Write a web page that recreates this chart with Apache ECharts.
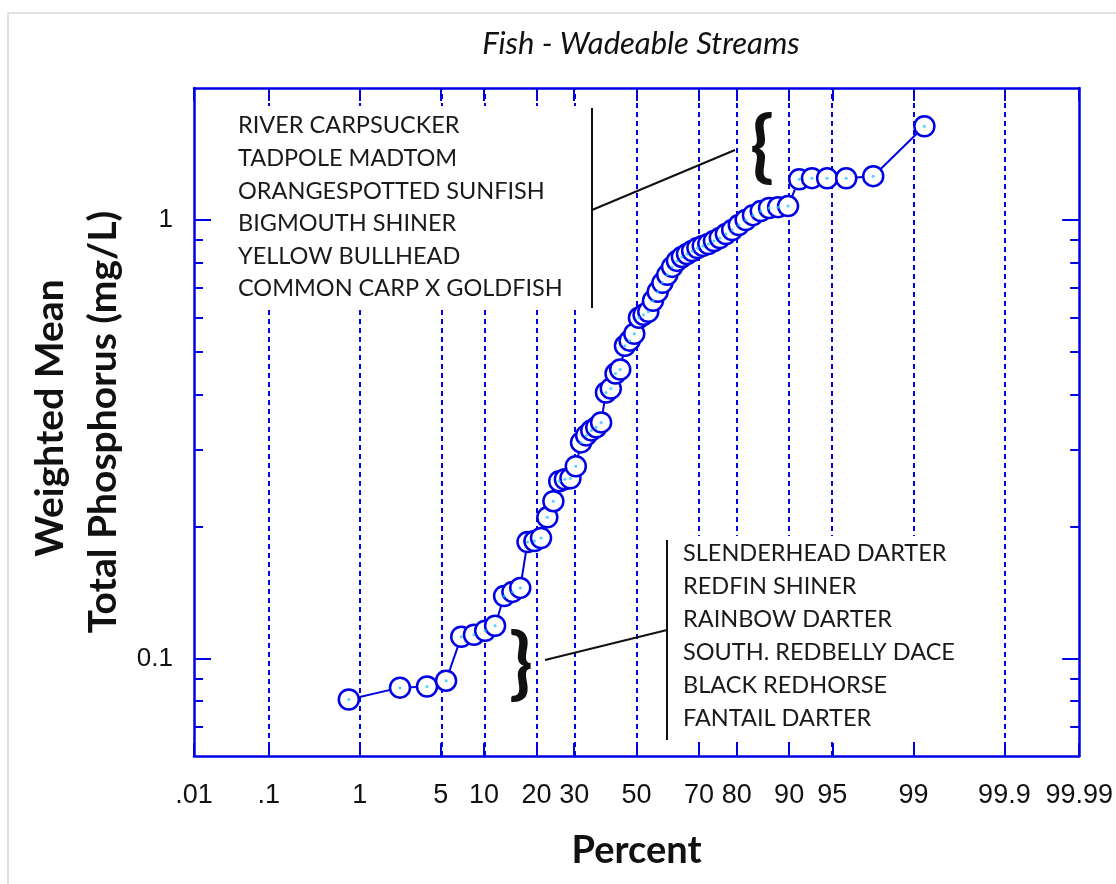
<!DOCTYPE html>
<html><head><meta charset="utf-8">
<script src="https://cdn.jsdelivr.net/npm/echarts@6/dist/echarts.min.js"></script>
<style>html,body{margin:0;padding:0;background:#fff}#c{width:1116px;height:884px}</style>
</head><body><div id="c"></div>
<script>
// ---- data ----
const percents = [0.78, 2.34, 3.91, 5.47, 7.03, 8.59, 10.16, 11.72, 13.28, 14.84, 16.41, 17.97, 19.53, 21.09, 22.66, 24.22, 25.78, 27.34, 28.91, 30.47, 32.03, 33.59, 35.16, 36.72, 38.28, 39.84, 41.41, 42.97, 44.53, 46.09, 47.66, 49.22, 50.78, 52.34, 53.91, 55.47, 57.03, 58.59, 60.16, 61.72, 63.28, 64.84, 66.41, 67.97, 69.53, 71.09, 72.66, 74.22, 75.78, 77.34, 78.91, 80.47, 82.03, 83.59, 85.16, 86.72, 88.28, 89.84, 91.41, 92.97, 94.53, 96.09, 97.66, 99.22];
const phosphorus = [0.0807, 0.0859, 0.0864, 0.0891, 0.1122, 0.1134, 0.1158, 0.1189, 0.139, 0.142, 0.145, 0.1845, 0.1854, 0.1884, 0.210, 0.2286, 0.2538, 0.2565, 0.2578, 0.2746, 0.3112, 0.3229, 0.3315, 0.3368, 0.3457, 0.4044, 0.413, 0.4467, 0.4562, 0.517, 0.531, 0.5507, 0.5988, 0.6083, 0.618, 0.6545, 0.6862, 0.7192, 0.7499, 0.782, 0.8069, 0.824, 0.837, 0.850, 0.8637, 0.873, 0.882, 0.896, 0.910, 0.929, 0.949, 0.974, 1.0, 1.026, 1.048, 1.065, 1.070, 1.076, 1.239, 1.246, 1.245, 1.245, 1.259, 1.636];
const tickPercents = [0.01, 0.1, 1, 5, 10, 20, 30, 50, 70, 80, 90, 95, 99, 99.9, 99.99];
const tickLabels = ['.01', '.1', '1', '5', '10', '20', '30', '50', '70', '80', '90', '95', '99', '99.9', '99.99'];
const gridPercents = [0.1, 1, 5, 10, 20, 30, 50, 70, 80, 90, 95, 99, 99.9];
const yMajor = [0.1, 1];
const yMajorLabels = ['0.1', '1'];
const yMinor = [0.07, 0.08, 0.09, 0.2, 0.3, 0.4, 0.5, 0.6, 0.7, 0.8, 0.9];
const yMin = 0.06, yMax = 2;
const title = 'Fish - Wadeable Streams';
const xName = 'Percent';
const yName1 = 'Weighted Mean';
const yName2 = 'Total Phosphorus (mg/L)';
const upperSpecies = ['RIVER CARPSUCKER', 'TADPOLE MADTOM', 'ORANGESPOTTED SUNFISH', 'BIGMOUTH SHINER', 'YELLOW BULLHEAD', 'COMMON CARP X GOLDFISH'];
const lowerSpecies = ['SLENDERHEAD DARTER', 'REDFIN SHINER', 'RAINBOW DARTER', 'SOUTH. REDBELLY DACE', 'BLACK REDHORSE', 'FANTAIL DARTER'];

// ---- probability (probit) transform for the x scale ----
function probit(p) {
  const a = [-3.969683028665376e+01, 2.209460984245205e+02, -2.759285104469687e+02, 1.383577518672690e+02, -3.066479806614716e+01, 2.506628277459239e+00];
  const b = [-5.447609879822406e+01, 1.615858368580409e+02, -1.556989798598866e+02, 6.680131188771972e+01, -1.328068155288572e+01];
  const c = [-7.784894002430293e-03, -3.223964580411365e-01, -2.400758277161838e+00, -2.549732539343734e+00, 4.374664141464968e+00, 2.938163982698783e+00];
  const d = [7.784695709041462e-03, 3.224671290700398e-01, 2.445134137142996e+00, 3.754408661907416e+00];
  const plow = 0.02425;
  let q, r;
  if (p < plow) {
    q = Math.sqrt(-2 * Math.log(p));
    return (((((c[0]*q+c[1])*q+c[2])*q+c[3])*q+c[4])*q+c[5]) / ((((d[0]*q+d[1])*q+d[2])*q+d[3])*q+1);
  } else if (p <= 1 - plow) {
    q = p - 0.5; r = q*q;
    return (((((a[0]*r+a[1])*r+a[2])*r+a[3])*r+a[4])*r+a[5])*q / (((((b[0]*r+b[1])*r+b[2])*r+b[3])*r+b[4])*r+1);
  } else {
    q = Math.sqrt(-2 * Math.log(1 - p));
    return -(((((c[0]*q+c[1])*q+c[2])*q+c[3])*q+c[4])*q+c[5]) / ((((d[0]*q+d[1])*q+d[2])*q+d[3])*q+1);
  }
}
const zOf = pct => probit(pct / 100);
const xMin = zOf(tickPercents[0]);
const xMax = zOf(tickPercents[tickPercents.length - 1]);
const tickZ = tickPercents.map(zOf);
function xLabel(v) {
  let best = 0, bd = Infinity;
  tickZ.forEach((z, i) => { const dd = Math.abs(z - v); if (dd < bd) { bd = dd; best = i; } });
  return tickLabels[best];
}

const BLUE = '#0000E6';
const points = percents.map((p, i) => [zOf(p), phosphorus[i]]);

const chart = echarts.init(document.getElementById('c'), null, {renderer: 'canvas'});
const baseX = {
  type: 'value', min: xMin, max: xMax,
  axisLine: {show: true, onZero: false, lineStyle: {color: BLUE, width: 2.5}},
  axisTick: {show: true, inside: true, length: 13, customValues: tickZ, lineStyle: {color: BLUE, width: 2}},
  splitLine: {show: false}
};
const baseY = {
  type: 'log', logBase: 10, min: yMin, max: yMax,
  axisLine: {show: true, onZero: false, lineStyle: {color: BLUE, width: 2.5}},
  splitLine: {show: false}, minorTick: {show: false}, minorSplitLine: {show: false}
};
const option = {
  backgroundColor: '#fff',
  animation: false,
  grid: {left: 194, right: 34, top: 88, bottom: 128, containLabel: false},
  xAxis: [
    Object.assign({}, baseX, {
      position: 'bottom',
      axisLabel: {show: true, customValues: tickZ, formatter: xLabel, margin: 26, color: '#111', fontSize: 27, fontFamily: 'Liberation Sans'},
      name: xName, nameLocation: 'middle', nameGap: 76,
      nameTextStyle: {fontSize: 38, fontWeight: 'bold', color: '#111', fontFamily: 'Lato'}
    }),
    Object.assign({}, baseX, {position: 'top', axisLabel: {show: false}})
  ],
  yAxis: [
    Object.assign({}, baseY, {
      position: 'left',
      axisTick: {show: true, inside: true, length: 17, customValues: yMajor, lineStyle: {color: BLUE, width: 2}},
      axisLabel: {show: true, customValues: yMajor, formatter: v => yMajorLabels[yMajor.findIndex(m => Math.abs(m - v) < 1e-6)] || '', margin: 21, color: '#111', fontSize: 26, fontFamily: 'Liberation Sans'}
    }),
    Object.assign({}, baseY, {
      position: 'left',
      axisLine: {show: false, onZero: false},
      axisTick: {show: true, inside: true, length: 9, customValues: yMinor, lineStyle: {color: BLUE, width: 2}},
      axisLabel: {show: false}
    }),
    Object.assign({}, baseY, {
      position: 'right',
      axisTick: {show: true, inside: true, length: 17, customValues: yMajor, lineStyle: {color: BLUE, width: 2}},
      axisLabel: {show: false}
    }),
    Object.assign({}, baseY, {
      position: 'right',
      axisLine: {show: false, onZero: false},
      axisTick: {show: true, inside: true, length: 9, customValues: yMinor, lineStyle: {color: BLUE, width: 2}},
      axisLabel: {show: false}
    })
  ],
  series: [
    {
      type: 'scatter', xAxisIndex: 0, yAxisIndex: 0, data: [], z: 1, silent: true,
      markLine: {
        z: 1, silent: true, symbol: 'none', label: {show: false},
        lineStyle: {color: BLUE, width: 2, type: [5, 4]},
        data: gridPercents.map(p => ({xAxis: zOf(p)}))
      }
    },
    {
      type: 'line', xAxisIndex: 0, yAxisIndex: 0, data: points, z: 10,
      symbol: 'circle', symbolSize: 20, showSymbol: true,
      lineStyle: {color: BLUE, width: 2},
      itemStyle: {color: '#fff', borderColor: BLUE, borderWidth: 2.5}
    },
    {
      type: 'scatter', xAxisIndex: 0, yAxisIndex: 0, data: points, z: 11, silent: true,
      symbol: 'circle', symbolSize: 3, itemStyle: {color: '#22C8FF'}
    }
  ],
  graphic: [
    {type: 'rect', z: 0, silent: true, shape: {x: 8, y: 13, width: 1300, height: 1000}, style: {fill: 'none', stroke: '#d8d8d8', lineWidth: 1.5}},
    {type: 'text', z: 20, style: {text: title, x: 641, y: 44, align: 'center', verticalAlign: 'middle', font: 'italic 31px Lato', fill: '#111'}},
    {type: 'text', z: 20, rotation: Math.PI / 2, x: 50, y: 418, style: {text: yName1, x: 0, y: 0, align: 'center', verticalAlign: 'middle', font: 'bold 39px Lato', fill: '#111'}},
    {type: 'text', z: 20, rotation: Math.PI / 2, x: 103, y: 422, style: {text: yName2, x: 0, y: 0, align: 'center', verticalAlign: 'middle', font: 'bold 39px Lato', fill: '#111'}},
    // white boxes behind annotation lists
    {type: 'rect', z: 8, silent: true, shape: {x: 224, y: 106, width: 367, height: 202}, style: {fill: '#fff'}},
    {type: 'rect', z: 8, silent: true, shape: {x: 669, y: 536, width: 294, height: 206}, style: {fill: '#fff'}},
    {type: 'text', z: 20, style: {text: upperSpecies.join('\n'), x: 238, y: 109.5, align: 'left', verticalAlign: 'top', font: '23.5px Lato', lineHeight: 32.6, fill: '#1a1a1a'}},
    {type: 'text', z: 20, style: {text: lowerSpecies.join('\n'), x: 683, y: 536.5, align: 'left', verticalAlign: 'top', font: '23.5px Lato', lineHeight: 33, fill: '#1a1a1a'}},
    {type: 'line', z: 20, shape: {x1: 592, y1: 108, x2: 592, y2: 308}, style: {stroke: '#111', lineWidth: 2}},
    {type: 'line', z: 20, shape: {x1: 592, y1: 210, x2: 735, y2: 150}, style: {stroke: '#111', lineWidth: 2}},
    {type: 'line', z: 20, shape: {x1: 667, y1: 540, x2: 667, y2: 740}, style: {stroke: '#111', lineWidth: 2}},
    {type: 'line', z: 20, shape: {x1: 667, y1: 630, x2: 545, y2: 660}, style: {stroke: '#111', lineWidth: 2}},
    {type: 'text', z: 20, style: {text: '{', x: 762, y: 148, align: 'center', verticalAlign: 'middle', font: 'bold 78px Lato', fill: '#111'}},
    {type: 'text', z: 20, style: {text: '}', x: 521, y: 665, align: 'center', verticalAlign: 'middle', font: 'bold 78px Lato', fill: '#111'}}
  ]
};
chart.setOption(option);
</script></body></html>
